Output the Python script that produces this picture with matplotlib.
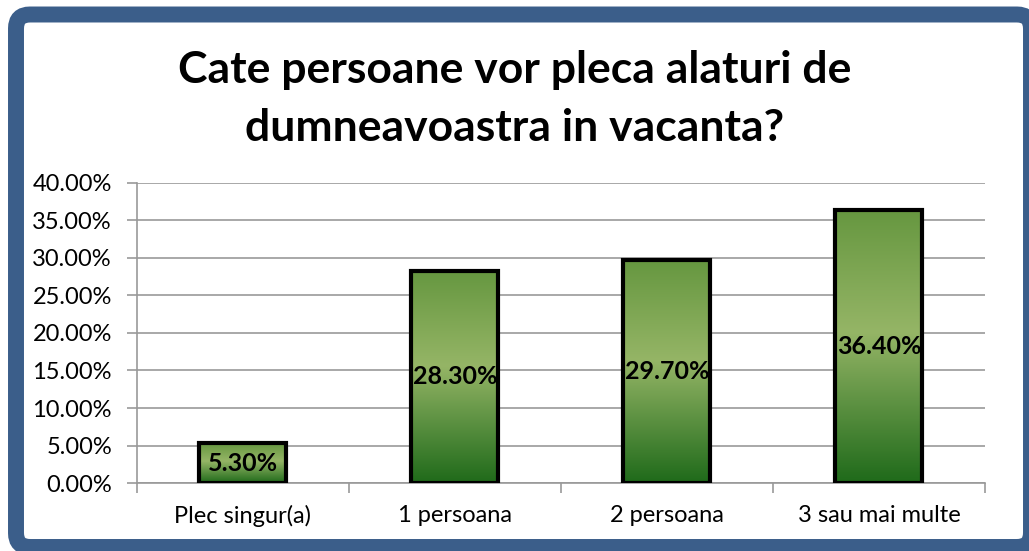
import numpy as np
import matplotlib
matplotlib.use('Agg')
import matplotlib.pyplot as plt
from matplotlib.patches import FancyBboxPatch
from matplotlib.colors import LinearSegmentedColormap
from matplotlib.transforms import IdentityTransform

categories = ['Plec singur(a)', '1 persoana', '2 persoana', '3 sau mai multe']
values = [0.053, 0.283, 0.297, 0.364]
value_labels = ['5.30%', '28.30%', '29.70%', '36.40%']
y_ticks = [0.0, 0.05, 0.10, 0.15, 0.20, 0.25, 0.30, 0.35, 0.40]

plt.rcParams['font.family'] = ['Lato', 'DejaVu Sans']

fig = plt.figure(figsize=(10.29, 5.51), dpi=100)
fig.patch.set_facecolor('white')

# blue rounded frame (pixel coords)
frame = FancyBboxPatch((16, 4), 1015, 532.5, boxstyle='round,pad=0,rounding_size=14',
                       transform=IdentityTransform(), facecolor='white',
                       edgecolor='#3B5E8A', linewidth=11.5, zorder=-5)
fig.patches.append(frame)

ax = fig.add_axes([0.1331, 0.1234, 0.9572 - 0.1331, 0.6679 - 0.1234])
ax.set_facecolor('none')

x = np.arange(len(categories))
width = 0.41

cmap = LinearSegmentedColormap.from_list('grn', [(0.0, '#1F6A1A'), (0.55, '#95B566'), (1.0, '#669740')])
grad = np.linspace(0, 1, 256).reshape(-1, 1)

bars = ax.bar(x, values, width=width, facecolor='none', edgecolor='black', linewidth=3, zorder=3)
for b in bars:
    x0, y0 = b.get_x(), b.get_y()
    im = ax.imshow(grad, cmap=cmap, origin='lower', aspect='auto',
                   extent=(x0, x0 + b.get_width(), y0, y0 + b.get_height()), zorder=2)
    im.set_clip_path(b)
ax.set_xlim(-0.5, len(categories) - 0.5)
ax.set_ylim(0, 0.40)

for xi, v, lab in zip(x, values, value_labels):
    ax.text(xi, v / 2, lab, ha='center', va='center', fontsize=18, fontweight='bold', zorder=4)

ax.set_yticks(y_ticks)
ax.set_yticklabels([f'{t:.2%}' for t in y_ticks], fontsize=17)
ax.yaxis.grid(True, color='#999999', linewidth=1.2, zorder=1)
ax.set_axisbelow(True)

ax.set_xticks(x)
ax.set_xticklabels(categories, fontsize=17)
ax.tick_params(axis='x', length=0, pad=16)
ax.set_xticks(np.arange(-0.5, len(categories)), minor=True)
ax.tick_params(axis='x', which='minor', length=7, color='#999999', width=1.2)
ax.tick_params(axis='y', length=7, color='#999999', width=1.2, pad=11)

for s in ['top', 'right']:
    ax.spines[s].set_visible(False)
for s in ['left', 'bottom']:
    ax.spines[s].set_color('#999999')
    ax.spines[s].set_linewidth(1.2)

fig.text(0.5, 1 - 70 / 551, 'Cate persoane vor pleca alaturi de', ha='center', va='center',
         fontsize=32, fontweight='bold')
fig.text(0.5, 1 - 128 / 551, 'dumneavoastra in vacanta?', ha='center', va='center',
         fontsize=32, fontweight='bold')

fig.savefig('out.png', dpi=100)
